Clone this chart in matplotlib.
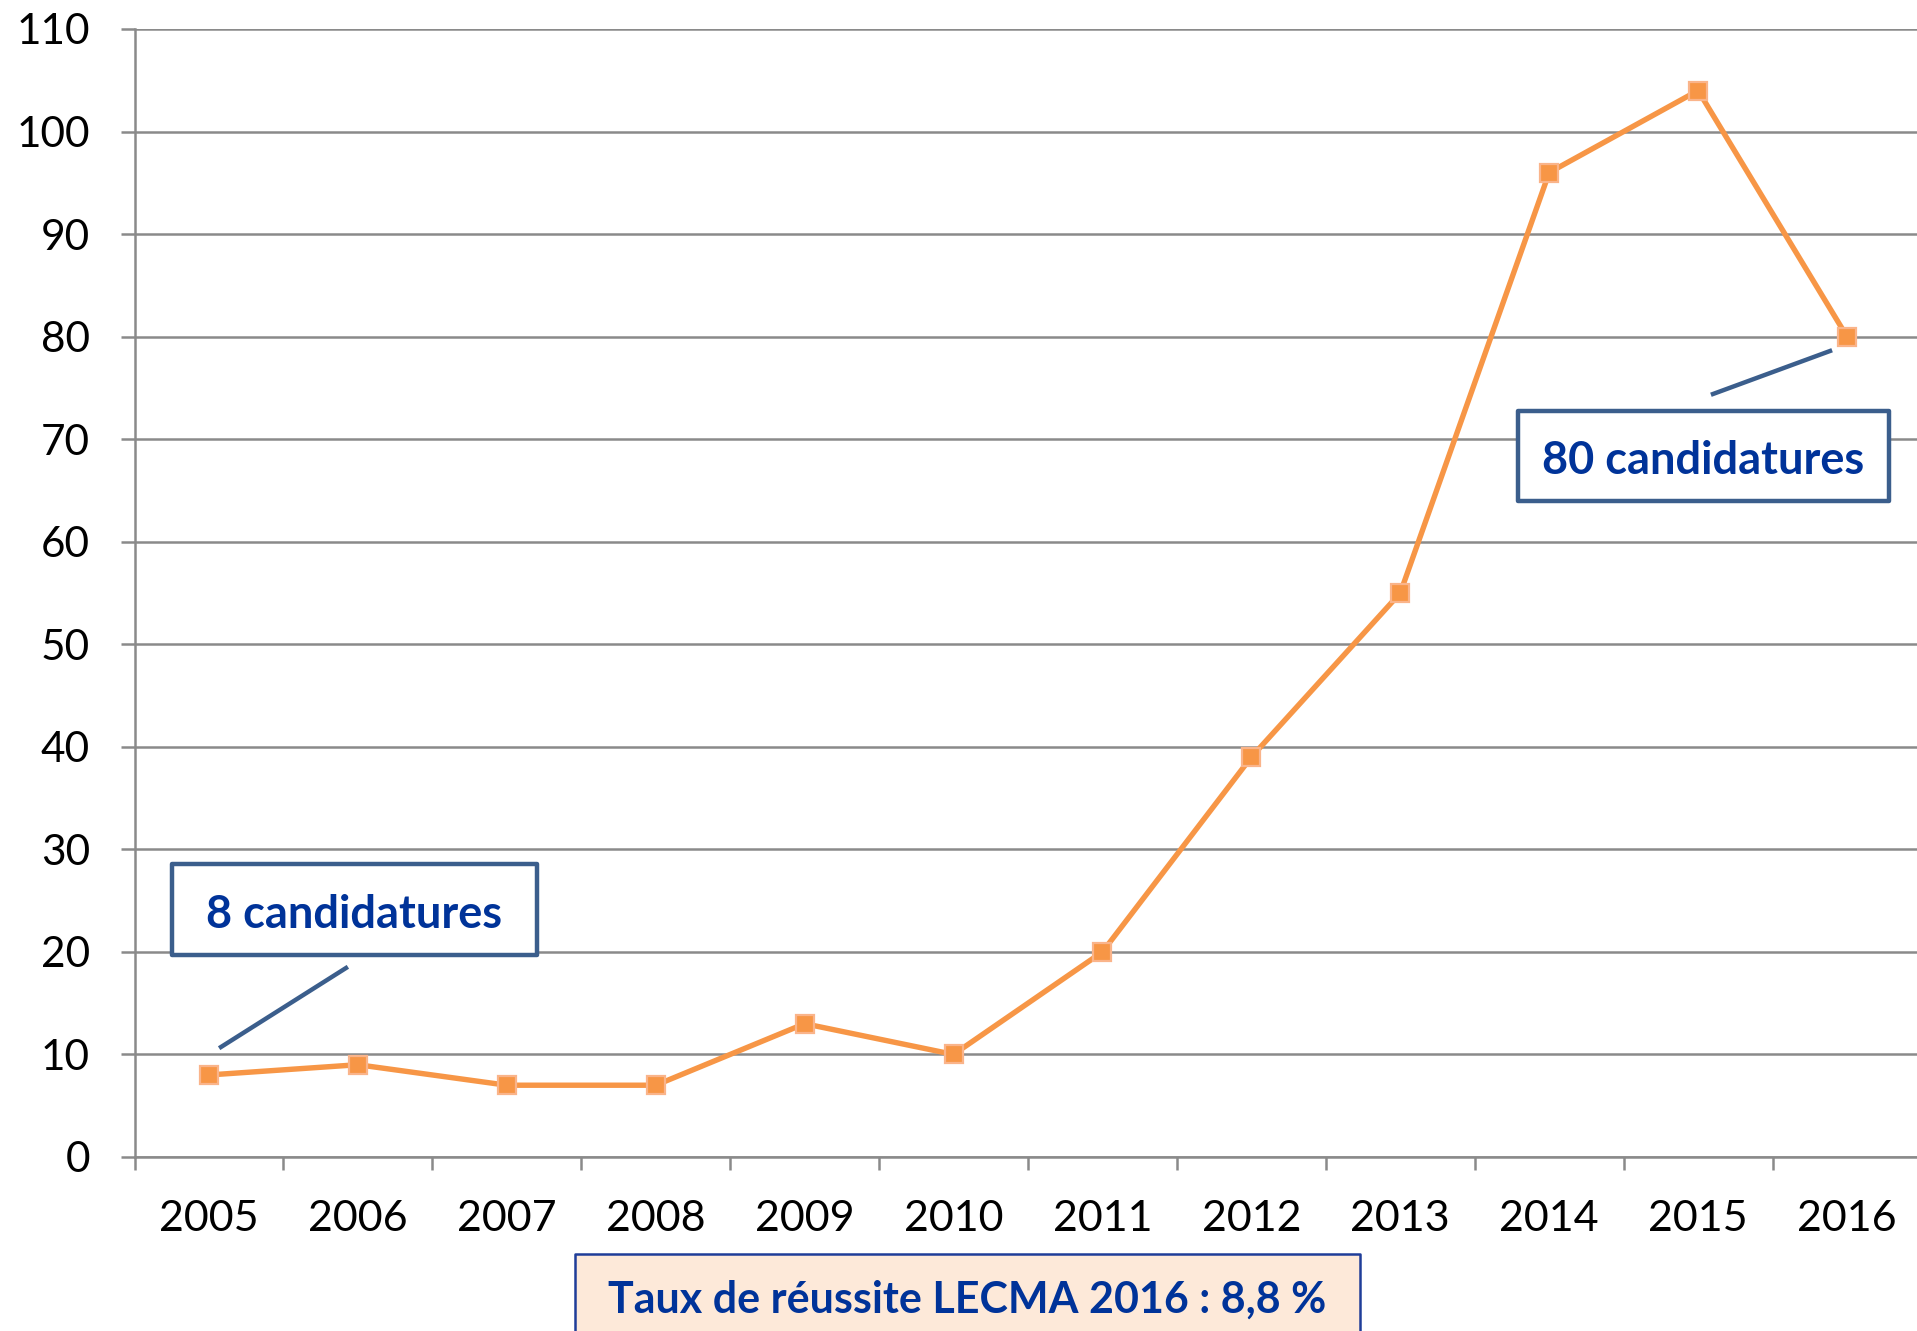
import matplotlib
matplotlib.use("Agg")
import matplotlib.pyplot as plt
from matplotlib.patches import Rectangle
from matplotlib.lines import Line2D
from matplotlib.ticker import FixedLocator

# données : candidatures LECMA par année
years = [2005, 2006, 2007, 2008, 2009, 2010, 2011, 2012, 2013, 2014, 2015, 2016]
candidatures = [8, 9, 7, 7, 13, 10, 20, 39, 55, 96, 104, 80]
y_ticks = list(range(0, 111, 10))

ORANGE = "#F79646"
ORANGE_EDGE = "#FAB48A"
GRID = "#8A8A8A"
BOX_EDGE = "#3B5E8C"
TXT_BLUE = "#003399"

W, H = 1917, 1331
fig = plt.figure(figsize=(W / 100, H / 100), dpi=100)
fig.patch.set_facecolor("white")

def fx(px):
    return px / W

def fy(py):
    return 1 - py / H

ax = fig.add_axes([fx(134.5), fy(1157), 1 - fx(134.5), (1157 - 29) / H])
x = list(range(len(years)))
ax.plot(x, candidatures, color=ORANGE, lw=3.9, zorder=3,
        marker="s", markersize=13, markerfacecolor=ORANGE,
        markeredgecolor=ORANGE_EDGE, markeredgewidth=1.6)

ax.set_xlim(-0.5, 11.47)
ax.set_ylim(0, 110)
ax.set_yticks(y_ticks)
ax.set_xticks(x)
ax.set_xticklabels([str(y) for y in years])
ax.xaxis.set_minor_locator(FixedLocator([i - 0.5 for i in range(len(years) + 1)]))

ax.yaxis.grid(True, color=GRID, lw=1.8, zorder=1)
ax.set_axisbelow(True)
for s in ("top", "right"):
    ax.spines[s].set_visible(False)
for s in ("left", "bottom"):
    ax.spines[s].set_color(GRID)
    ax.spines[s].set_linewidth(1.8)

ax.tick_params(axis="y", length=10, width=1.8, color=GRID, pad=22,
               labelsize=30.5, labelcolor="black")
ax.tick_params(axis="x", which="major", length=0, pad=31,
               labelsize=31, labelcolor="black")
ax.tick_params(axis="x", which="minor", length=9.5, width=1.8, color=GRID)
for lab in ax.get_xticklabels() + ax.get_yticklabels():
    lab.set_family("Lato")

# encadrés d'annotation
def box(x0, y0, x1, y1, text, size, face="white", edge=BOX_EDGE, lw=3.2, dy=0):
    r = Rectangle((fx(x0), fy(y1)), (x1 - x0) / W, (y1 - y0) / H,
                  transform=fig.transFigure, facecolor=face, edgecolor=edge,
                  lw=lw, joinstyle="round", zorder=10)
    fig.add_artist(r)
    fig.text(fx((x0 + x1) / 2), fy((y0 + y1) / 2 + dy), text, ha="center", va="center",
             fontsize=size, fontweight="bold", color=TXT_BLUE, family="Lato", zorder=11)

def connector(x0, y0, x1, y1):
    fig.add_artist(Line2D([fx(x0), fx(x1)], [fy(y0), fy(y1)],
                          transform=fig.transFigure, color=BOX_EDGE, lw=3.2, zorder=10))

box(172, 864, 537, 955, "8 candidatures", 32.5, dy=5)
connector(221, 1047, 346, 968)
box(1518, 411, 1889, 501, "80 candidatures", 32.5, dy=5)
connector(1713, 394, 1830, 351)
box(575, 1254, 1360, 1345, "Taux de réussite LECMA 2016 : 8,8 %", 31,
    face="#FDE9D9", edge="#1F3D99", lw=1.8)

fig.savefig("out.png", dpi=100)
